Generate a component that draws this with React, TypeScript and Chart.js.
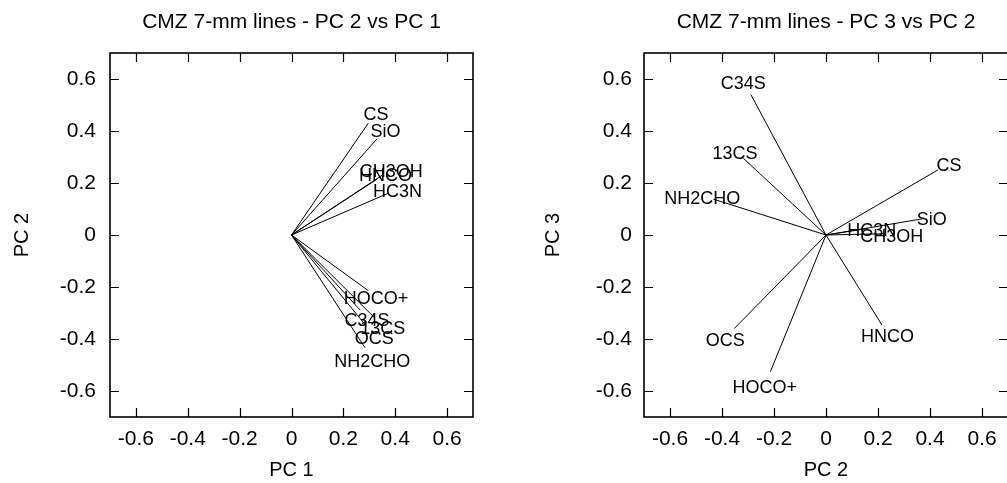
import React, { useEffect, useRef } from "react";
import { Chart, registerables } from "chart.js";

Chart.register(...registerables);

// Principal-component loadings (end points of the drawn vectors)
const MOLECULES = ["CS", "SiO", "CH3OH", "HNCO", "HC3N", "HOCO+", "C34S", "13CS", "OCS", "NH2CHO"];
const PC1 = [0.296, 0.33, 0.35, 0.33, 0.372, 0.296, 0.265, 0.32, 0.29, 0.283];
const PC2 = [0.43, 0.37, 0.23, 0.215, 0.16, -0.214, -0.289, -0.318, -0.352, -0.433];
const PC3 = [0.25, 0.062, 0.005, -0.346, 0.025, -0.526, 0.54, 0.295, -0.359, 0.138];

const TICK_VALUES = [-0.6, -0.4, -0.2, 0, 0.2, 0.4, 0.6];
const TICK_LABELS = ["-0.6", "-0.4", "-0.2", "0", "0.2", "0.4", "0.6"];

const LEFT_TITLE = "CMZ 7-mm lines - PC 2 vs PC 1";
const RIGHT_TITLE = "CMZ 7-mm lines - PC 3 vs PC 2";

const FONT = "'Liberation Sans', Arial, Helvetica, sans-serif";
const LABEL_SCALE = 1.1;

const framePlugin = {
  id: "frame",
  afterDraw(chart: any) {
    const { ctx, chartArea: a, scales } = chart;
    ctx.save();
    ctx.strokeStyle = "#000";
    ctx.lineWidth = 1.6;
    ctx.strokeRect(a.left, a.top, a.right - a.left, a.bottom - a.top);
    ctx.lineWidth = 1.2;
    const L = 9;
    ctx.beginPath();
    TICK_VALUES.forEach((v) => {
      const x = Math.round(scales.x.getPixelForValue(v)) + 0.5;
      ctx.moveTo(x, a.bottom);
      ctx.lineTo(x, a.bottom - L);
      ctx.moveTo(x, a.top);
      ctx.lineTo(x, a.top + L);
      const y = Math.round(scales.y.getPixelForValue(v)) + 0.5;
      ctx.moveTo(a.left, y);
      ctx.lineTo(a.left + L, y);
      ctx.moveTo(a.right, y);
      ctx.lineTo(a.right - L, y);
    });
    ctx.stroke();
    ctx.restore();
  },
};

const labelPlugin = {
  id: "vecLabels",
  afterDatasetsDraw(chart: any) {
    const { ctx, scales } = chart;
    ctx.save();
    ctx.fillStyle = "#000";
    ctx.font = `18px ${FONT}`;
    ctx.textAlign = "center";
    ctx.textBaseline = "middle";
    chart.data.datasets.forEach((ds: any) => {
      const p = ds.data[1];
      const x = scales.x.getPixelForValue(p.x * LABEL_SCALE);
      const y = scales.y.getPixelForValue(p.y * LABEL_SCALE) + 3;
      ctx.fillText(ds.label, x, y);
    });
    ctx.restore();
  },
};

type PanelProps = {
  xs: number[];
  ys: number[];
  title: string;
  xTitle: string;
  yTitle: string;
  left: number;
  width: number;
  yAxisWidth: number;
  yTickPad: number;
  yTitlePad: number;
  padRight: number;
};

function Panel(props: PanelProps) {
  const ref = useRef<HTMLCanvasElement | null>(null);
  useEffect(() => {
    if (!ref.current) return;
    const datasets = MOLECULES.map((m, i) => ({
      label: m,
      data: [
        { x: 0, y: 0 },
        { x: props.xs[i], y: props.ys[i] },
      ],
      showLine: true,
      borderColor: "#000",
      borderWidth: 1,
      pointRadius: 0,
      fill: false,
    }));
    const tickOpts = (pad: number) => ({
      color: "#000",
      padding: pad,
      font: { family: FONT, size: 21 },
      callback: (v: any) => {
        const idx = TICK_VALUES.findIndex((t) => Math.abs(t - v) < 1e-9);
        return idx >= 0 ? TICK_LABELS[idx] : "";
      },
    });
    const chart = new Chart(ref.current, {
      type: "scatter",
      data: { datasets },
      options: {
        animation: false,
        responsive: false,
        devicePixelRatio: 1,
        layout: { padding: { left: 0, top: 0, bottom: 0, right: props.padRight } },
        plugins: {
          legend: { display: false },
          tooltip: { enabled: false },
          title: {
            display: true,
            text: props.title,
            color: "#000",
            fullSize: false,
            font: { family: FONT, size: 21, weight: "normal" },
            padding: { top: 10, bottom: 17.8 },
          },
        },
        scales: {
          x: {
            type: "linear",
            min: -0.7,
            max: 0.7,
            grid: { display: false, drawTicks: false },
            border: { display: false },
            afterBuildTicks: (s: any) => {
              s.ticks = TICK_VALUES.map((v) => ({ value: v }));
            },
            afterFit: (s: any) => {
              s.height = 66;
            },
            ticks: tickOpts(10),
            title: {
              display: true,
              text: props.xTitle,
              color: "#000",
              font: { family: FONT, size: 20 },
              padding: { top: 0, bottom: 1 },
            },
          },
          y: {
            type: "linear",
            min: -0.7,
            max: 0.7,
            grid: { display: false, drawTicks: false },
            border: { display: false },
            afterBuildTicks: (s: any) => {
              s.ticks = TICK_VALUES.map((v) => ({ value: v }));
            },
            afterFit: (s: any) => {
              s.width = props.yAxisWidth;
            },
            ticks: tickOpts(props.yTickPad),
            title: {
              display: true,
              text: props.yTitle,
              color: "#000",
              font: { family: FONT, size: 20 },
              padding: { top: props.yTitlePad, bottom: 0 },
            },
          },
        },
      } as any,
      plugins: [framePlugin, labelPlugin],
    });
    return () => chart.destroy();
  }, []);
  return (
    <canvas
      ref={ref}
      width={props.width}
      height={483}
      style={{ position: "absolute", left: props.left, top: 0, width: props.width, height: 483 }}
    />
  );
}

export default function App() {
  return (
    <div
      style={{
        position: "absolute",
        left: 0,
        top: 0,
        width: 1007,
        height: 483,
        overflow: "hidden",
        background: "#fff",
      }}
    >
      <Panel
        xs={PC1}
        ys={PC2}
        title={LEFT_TITLE}
        xTitle="PC 1"
        yTitle="PC 2"
        left={0}
        width={500}
        yAxisWidth={110}
        yTickPad={14}
        yTitlePad={10}
        padRight={27}
      />
      <Panel
        xs={PC2}
        ys={PC3}
        title={RIGHT_TITLE}
        xTitle="PC 2"
        yTitle="PC 3"
        left={500}
        width={520}
        yAxisWidth={144}
        yTickPad={12}
        yTitlePad={41}
        padRight={12}
      />
    </div>
  );
}
